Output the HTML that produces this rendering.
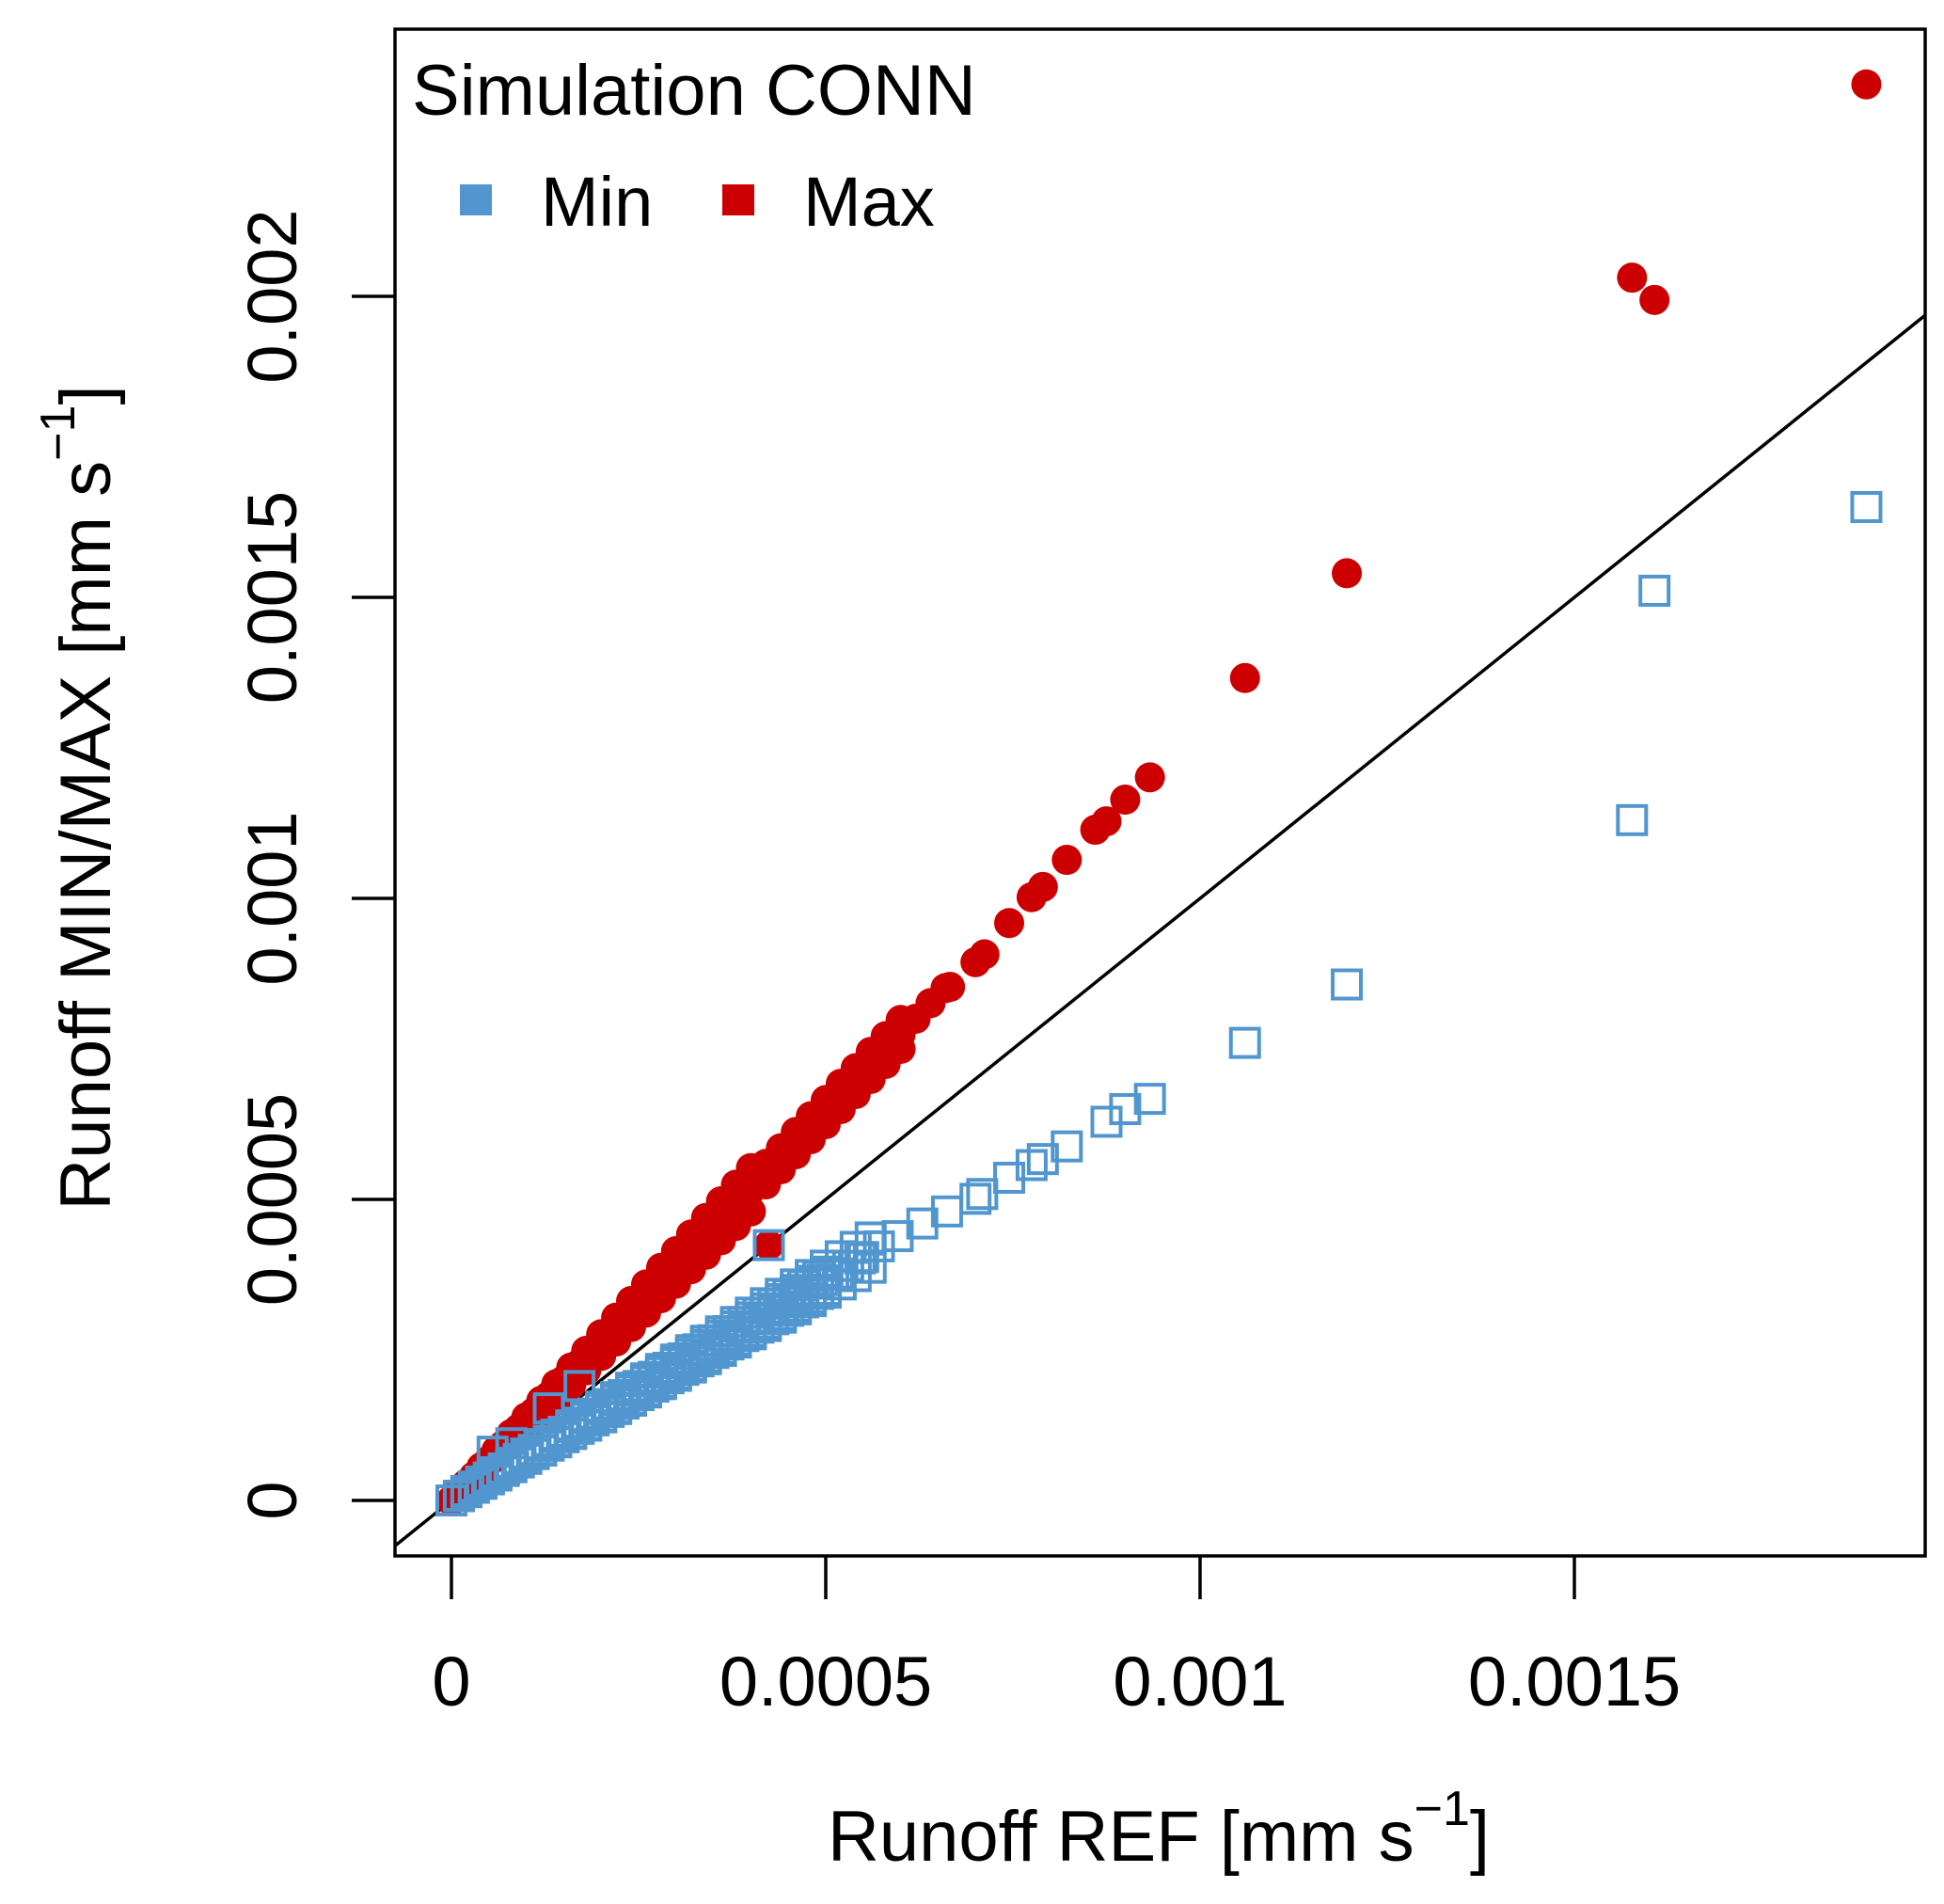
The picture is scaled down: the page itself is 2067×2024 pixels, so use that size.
<!DOCTYPE html>
<html><head><meta charset="utf-8"><style>html,body{margin:0;padding:0;background:#fff}svg{display:block}text{font-family:"Liberation Sans",Arial,sans-serif;fill:#000}</style></head>
<body>
<svg id="chart" width="2067" height="2024" viewBox="0 0 2067 2024" xmlns="http://www.w3.org/2000/svg">
<defs><clipPath id="clip"><rect x="420" y="31" width="1627" height="1623"/></clipPath></defs>
<g id="plot" clip-path="url(#clip)"></g>
<rect x="420" y="31" width="1627" height="1623" fill="none" stroke="#000" stroke-width="3.5"/>
<g id="axes"></g>
<text x="438" y="122" font-size="76">Simulation CONN</text>
<rect x="489" y="196" width="34" height="33" fill="#5196cf"/>
<text x="575" y="240" font-size="74">Min</text>
<rect x="768" y="196" width="34" height="33" fill="#cc0000"/>
<text x="854" y="240" font-size="74">Max</text>
<text x="1232" y="1978" font-size="76" text-anchor="middle">Runoff REF [mm s<tspan font-size="52" dy="-38">−1</tspan><tspan dy="38">]</tspan></text>
<text transform="translate(117,848) rotate(-90)" font-size="76" text-anchor="middle">Runoff MIN/MAX [mm s<tspan font-size="52" dy="-38">−1</tspan><tspan dy="38">]</tspan></text>
</svg>
<script>
const xTicks = [0, 0.0005, 0.001, 0.0015];
const xTickLabels = ["0", "0.0005", "0.001", "0.0015"];
const yTicks = [0, 0.0005, 0.001, 0.0015, 0.002];
const yTickLabels = ["0", "0.0005", "0.001", "0.0015", "0.002"];
// values in 1e-5 mm/s
const maxX = [0,1,2,3,4,5,6,7,8,10,12,14,16,18,20,22,24,26,28,30,32,34,36,38,40,42,44,46,48,50,52,54,56,58,60,62,64,66,42.4,66.6,70.0,71.2,74.5,77.5,79.0,82.2,86.0,87.5,90.0,93.3,106.0,119.6,157.7,160.7,189.0];
const maxY = [0,1.3,2.6,3.9,5.2,6.5,7.7,9.0,10.3,12.9,15.5,18.1,20.6,23.2,25.8,28.4,31.0,33.5,36.1,38.7,41.3,43.9,46.4,49.0,51.6,54.2,56.8,59.3,61.9,64.5,67.1,69.7,72.2,74.8,77.4,80.0,82.6,85.1,42.4,85.3,89.4,90.7,95.9,100.2,101.9,106.4,111.4,112.8,116.4,120.1,136.6,154.0,203.1,199.4,235.2];
const maxUpperX = [0,2,4,6,8,10,12,14,16,18,20,22,24,26,28,30,32,34,36,38,40,42,44,46,48,50,52,54,56,58,60];
const maxUpperY = [0,2.76,5.52,8.28,11.04,13.8,16.56,19.32,22.08,24.84,27.6,30.36,33.12,35.88,38.64,41.4,44.16,46.92,49.68,52.44,55.2,55.9,58.5,61.2,63.8,66.5,69.2,71.8,74.5,77.1,79.8];
const maxLowerX = [0,2,4,6,8,10,12,14,16,18,20,22,24,26,28,30,32,34,36,38,40,42,44,46,48,50,52,54,56,58,60];
const maxLowerY = [0,2.4,4.8,7.2,9.6,12,14.4,16.8,19.2,21.6,24,26.4,28.8,31.2,33.6,36,38.4,40.8,43.2,45.6,48,52.5,55,57.5,60,62.5,65,67.5,70,72.5,75];
const maxMidX = [1,3,5,7,9,11,13,15,17,19,21,23,25,27,29,31,33,35,37,39,41,43,45,47,49,51,53,55,57,59];
const maxMidY = [1.33,3.99,6.65,9.31,11.97,14.63,17.29,19.95,22.61,25.27,27.93,30.59,33.25,35.91,38.57,41.23,43.89,46.55,49.21,51.87,54.53,56.0,58.5,61.1,63.7,66.3,68.9,71.5,74.1,76.7];
const minX = [0,1,2,3,4,5,6,7,8,9,10,11,12,13,14,15,16,17,18,19,20,21,22,23,24,25,26,27,28,29,30,31,32,33,34,35,36,37,38,39,40,5.5,8,13,17.1,44.3,46.3,49.6,51.6,54.6,57.1,59.6,62.9,66.2,70.0,70.9,74.5,77.5,79.0,82.2,87.5,90.0,93.3,42.4,106.0,119.6,157.7,160.7,189.0];
const minY = [0,0.77,1.5,2.3,3.0,3.8,4.6,5.3,6.1,6.9,7.6,8.4,9.1,9.9,10.6,11.4,12.2,12.9,13.7,14.4,15.2,16.0,16.7,17.5,18.2,19.0,19.8,20.5,21.3,22.0,22.8,23.6,24.3,25.1,25.8,26.6,27.4,28.1,28.9,29.6,30.4,8.1,9.5,15.3,19.0,31.9,34.0,36.6,37.7,40.2,42.2,43.9,46.0,48.0,50.1,50.9,53.6,55.7,56.7,58.8,62.9,65.0,66.7,42.4,76.0,85.7,113.0,151.1,165.0];
const minLowerX = [0,2,4,6,8,10,12,14,16,18,20,22,24,26,28,30,32,34,36,38,40,42,44,46,48,50,52,54,56];
const minLowerY = [0,1.38,2.76,4.14,5.52,6.9,8.28,9.66,11.04,12.42,13.8,15.18,16.56,17.94,19.32,20.7,22.08,23.46,24.84,26.22,27.6,28.98,30.36,31.74,33.12,34.5,35.88,37.26,38.64];
const minUpperX = [0,2,4,6,8,10,12,14,16,18,20,22,24,26,28,30,32,34,36,38,40,42,44,46,48,50,52,54,56];
const minUpperY = [0,1.56,3.12,4.68,6.24,7.8,9.36,10.92,12.48,14.04,15.6,17.16,18.72,20.28,21.84,23.4,24.96,26.52,28.08,29.64,31.2,32.76,34.32,35.88,37.44,39.0,40.56,42.12,43.68];
const minMidX = [1,3,5,7,9,11,13,15,17,19,21,23,25,27,29,31,33,35,37,39,41,43,45,47,49,51,53,55];
const minMidY = [0.74,2.21,3.68,5.15,6.62,8.09,9.56,11.03,12.5,13.97,15.44,16.91,18.38,19.85,21.32,22.79,24.26,25.73,27.2,28.67,30.14,31.61,33.08,34.55,36.02,37.49,38.96,40.43];
const minDenseAX = [0,1,2,3,4,5,6,7,8,9,10,11,12,13,14,15,16,17,18,19,20,21,22,23,24,25,26,27,28,29,30,31,32,33,34,35,36,37,38,39,40,41,42,43,44,45,46,47,48,49,50];
const minDenseAY = [0,0.7,1.4,2.1,2.8,3.5,4.2,4.9,5.6,6.3,7,7.7,8.4,9.1,9.8,10.5,11.2,11.9,12.6,13.3,14,14.7,15.4,16.1,16.8,17.5,18.2,18.9,19.6,20.3,21,21.7,22.4,23.1,23.8,24.5,25.2,25.9,26.6,27.3,28,28.7,29.4,30.1,30.8,31.5,32.2,32.9,33.6,34.3,35];
const minDenseBX = [0,1,2,3,4,5,6,7,8,9,10,11,12,13,14,15,16,17,18,19,20,21,22,23,24,25,26,27,28,29,30,31,32,33,34,35,36,37,38,39,40,41,42,43,44,45,46,47,48,49,50];
const minDenseBY = [0,0.76,1.52,2.28,3.04,3.8,4.56,5.32,6.08,6.84,7.6,8.36,9.12,9.88,10.64,11.4,12.16,12.92,13.68,14.44,15.2,15.96,16.72,17.48,18.24,19,19.76,20.52,21.28,22.04,22.8,23.56,24.32,25.08,25.84,26.6,27.36,28.12,28.88,29.64,30.4,31.16,31.92,32.68,33.44,34.2,34.96,35.72,36.48,37.24,38];

const X = v => 480 + v / 0.0005 * 398;
const Y = v => 1595 - v / 0.0005 * 320;
const NS = "http://www.w3.org/2000/svg";
const plot = document.getElementById('plot');
const axes = document.getElementById('axes');
function mk(tag, attrs, parent) { const e = document.createElementNS(NS, tag); for (const k in attrs) e.setAttribute(k, attrs[k]); parent.appendChild(e); return e; }

const ref = mk('line', {x1: X(-0.0001), y1: Y(-0.0001), x2: X(0.003), y2: Y(0.003), stroke: '#000', 'stroke-width': 3.5}, plot);



function drawMax(xs, ys) {
  for (let i = 0; i < xs.length; i++) {
    const c = mk('circle', {cx: X(xs[i] * 1e-5), cy: Y(ys[i] * 1e-5), r: 16, fill: '#cc0000'}, plot);
    
    
  }
}
function drawMin(xs, ys) {
  for (let i = 0; i < xs.length; i++) {
    const s = mk('rect', {x: X(xs[i] * 1e-5) - 15, y: Y(ys[i] * 1e-5) - 15, width: 30, height: 30, fill: 'none', stroke: '#5196cf', 'stroke-width': 4}, plot);
    
    
  }
}
drawMax(maxUpperX, maxUpperY);
drawMax(maxLowerX, maxLowerY);
drawMax(maxMidX, maxMidY);
drawMax(maxX, maxY);
drawMin(minLowerX, minLowerY);
drawMin(minUpperX, minUpperY);
drawMin(minMidX, minMidY);
drawMin(minDenseAX, minDenseAY);
drawMin(minDenseBX, minDenseBY);
drawMin(minX, minY);

xTicks.forEach((t, i) => {
  const l = mk('line', {x1: X(t), y1: 1654, x2: X(t), y2: 1700, stroke: '#000', 'stroke-width': 3.5}, axes);
  
  
  const tx = mk('text', {x: X(t), y: 1813, 'font-size': 74, 'text-anchor': 'middle'}, axes);
  tx.textContent = xTickLabels[i];
  
  
});
yTicks.forEach((t, i) => {
  const l = mk('line', {x1: 374, y1: Y(t), x2: 420, y2: Y(t), stroke: '#000', 'stroke-width': 3.5}, axes);
  
  
  const tx = mk('text', {transform: `translate(315,${Y(t)}) rotate(-90)`, 'font-size': 74, 'text-anchor': 'middle'}, axes);
  tx.textContent = yTickLabels[i];
  
  
});
</script>
</body></html>
